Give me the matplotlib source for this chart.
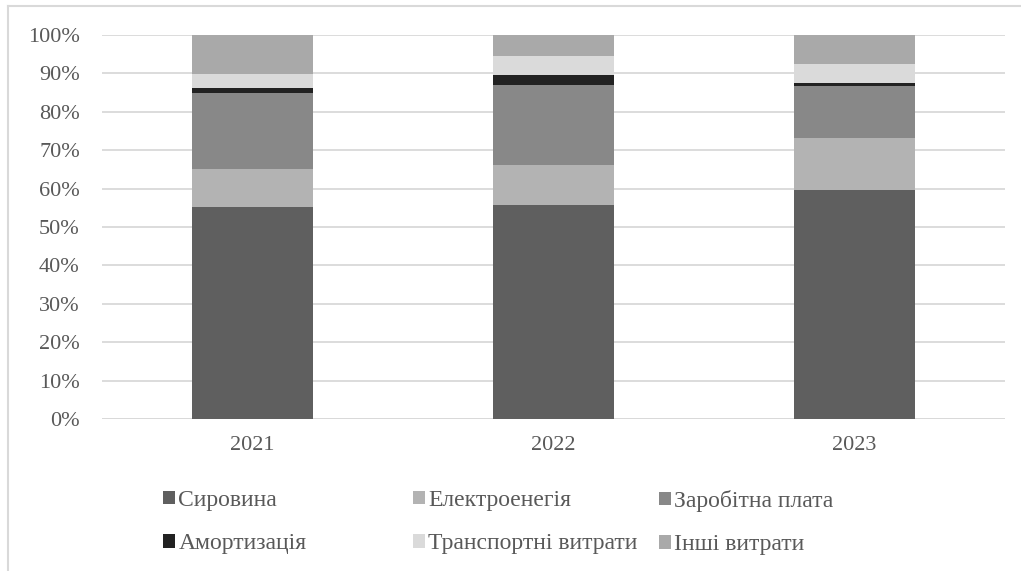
import numpy as np
import matplotlib.pyplot as plt
from matplotlib.lines import Line2D
from matplotlib.patches import Patch

plt.rcParams['font.family'] = ['Liberation Serif', 'DejaVu Serif']

years = ['2021', '2022', '2023']
series_names = ['Сировина', 'Електроенегія', 'Заробітна плата',
                'Амортизація', 'Транспортні витрати', 'Інші витрати']
colors = ['#5f5f5f', '#b3b3b3', '#888888', '#222222', '#dadada', '#a9a9a9']

# shares of cost items, %
syrovyna = [55.1, 55.6, 59.7]
elektro = [10.1, 10.6, 13.5]
zarplata = [19.8, 20.8, 13.4]
amort = [1.1, 2.6, 0.8]
transport = [3.8, 4.9, 5.1]
inshi = [10.1, 5.5, 7.5]

data = np.array([syrovyna, elektro, zarplata, amort, transport, inshi])
shares = data / data.sum(axis=0) * 100

fig = plt.figure(figsize=(10.21, 5.71), dpi=100)
ax = fig.add_axes([102 / 1021, 1 - 419 / 571, 903 / 1021, 384 / 571])

x = np.arange(len(years))
bottom = np.zeros(len(years))
for vals, name, c in zip(shares, series_names, colors):
    ax.bar(x, vals, width=0.4, bottom=bottom, color=c, label=name, zorder=3)
    bottom += vals

ax.set_xlim(-0.5, 2.5)
ax.set_ylim(0, 100)
ax.set_yticks(np.arange(0, 101, 10))
ax.set_yticklabels([f'{v}%' for v in range(0, 101, 10)])
ax.set_xticks(x)
ax.set_xticklabels(years)
ax.tick_params(length=0, labelsize=16, labelcolor='#595959')
ax.tick_params(axis='y', pad=16)
ax.tick_params(axis='x', pad=12)
ax.grid(axis='y', color='#d9d9d9', lw=1.3, zorder=0)
for s in ax.spines.values():
    s.set_visible(False)
ax.axhline(0, color='#d9d9d9', lw=1.3, zorder=2)

# legend, three columns placed separately
cols = [(0, 3), (1, 4), (2, 5)]
col_x = [163 / 1021, 413 / 1021, 659 / 1021]
for (a, b), cx in zip(cols, col_x):
    handles = [Patch(facecolor=colors[a]), Patch(facecolor=colors[b])]
    fig.legend(handles, [series_names[a], series_names[b]],
               loc='upper left', bbox_to_anchor=(cx, 1 - 490 / 571),
               frameon=False, fontsize=17, handlelength=0.5,
               handleheight=0.5, handletextpad=0.15,
               labelspacing=0.95, borderpad=0, borderaxespad=0,
               labelcolor='#595959')

# chart area border
fig.add_artist(Line2D([8 / 1021, 1], [1 - 5.5 / 571] * 2, color='#d9d9d9',
                      lw=1.5, transform=fig.transFigure))
fig.add_artist(Line2D([8 / 1021] * 2, [0, 1 - 5.5 / 571], color='#d9d9d9',
                      lw=1.5, transform=fig.transFigure))

fig.savefig('out.png', dpi=100)
